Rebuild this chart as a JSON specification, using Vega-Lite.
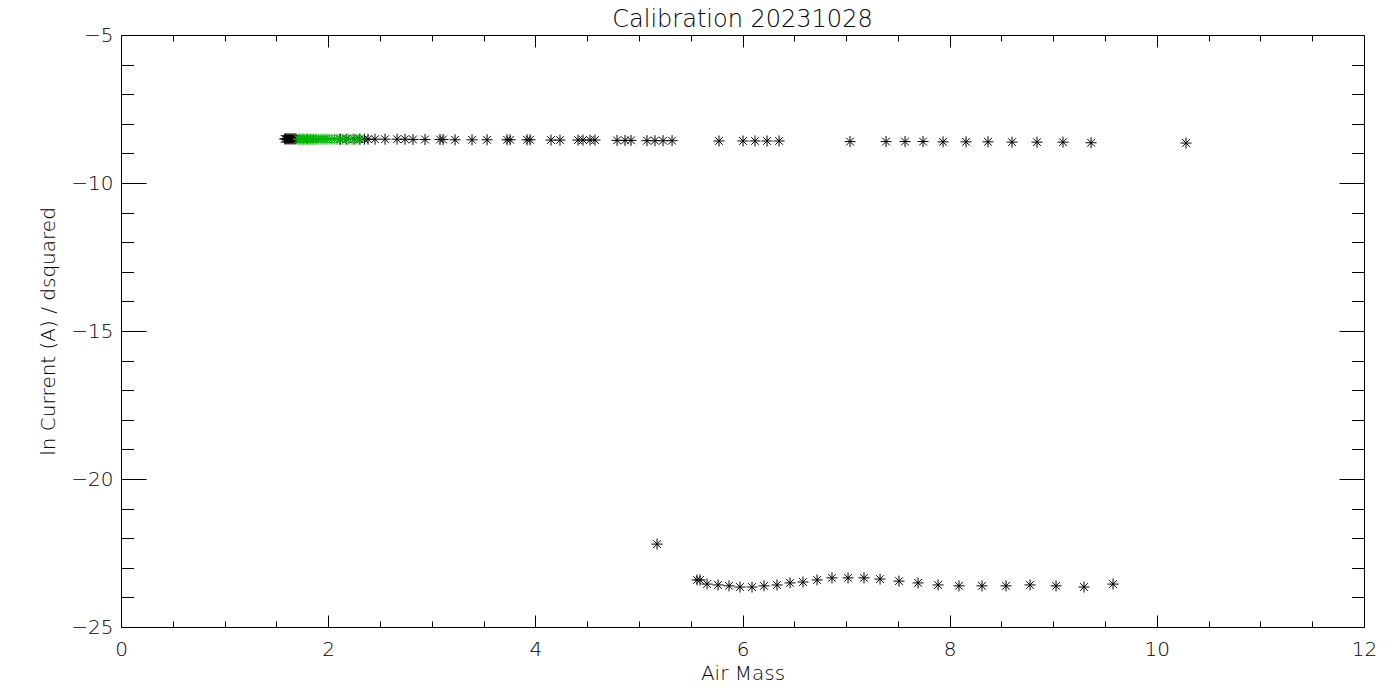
{
  "$schema": "https://vega.github.io/schema/vega-lite/v6.json",
  "autosize": {"type": "none"},
  "padding": {"left": 121, "top": 35, "right": 36, "bottom": 73},
  "width": 1243,
  "height": 592,
  "background": "white",
  "title": {
    "text": "Calibration 20231028",
    "font": "DejaVu Sans",
    "fontSize": 24,
    "fontWeight": 200,
    "color": "black",
    "anchor": "middle",
    "frame": "group",
    "baseline": "alphabetic",
    "offset": -26
  },
  "config": {
    "view": {"stroke": "black", "strokeWidth": 1},
    "axis": {
      "domain": false,
      "grid": false,
      "tickColor": "black",
      "tickWidth": 1,
      "labelColor": "black",
      "titleColor": "black",
      "labelFont": "DejaVu Sans",
      "titleFont": "DejaVu Sans",
      "labelFontSize": 20,
      "titleFontSize": 20,
      "labelFontWeight": 200,
      "titleFontWeight": 200
    }
  },
  "datasets": {
    "pts": [
      {"airmass": 1.58, "lnI": -8.51, "grp": "black"},
      {"airmass": 1.59, "lnI": -8.51, "grp": "black"},
      {"airmass": 1.60, "lnI": -8.51, "grp": "black"},
      {"airmass": 1.61, "lnI": -8.51, "grp": "black"},
      {"airmass": 1.62, "lnI": -8.51, "grp": "black"},
      {"airmass": 1.63, "lnI": -8.51, "grp": "black"},
      {"airmass": 1.64, "lnI": -8.51, "grp": "black"},
      {"airmass": 1.65, "lnI": -8.51, "grp": "black"},
      {"airmass": 1.66, "lnI": -8.51, "grp": "black"},
      {"airmass": 1.67, "lnI": -8.51, "grp": "black"},
      {"airmass": 1.68, "lnI": -8.51, "grp": "black"},
      {"airmass": 1.69, "lnI": -8.51, "grp": "black"},
      {"airmass": 2.12, "lnI": -8.52, "grp": "black"},
      {"airmass": 2.18, "lnI": -8.52, "grp": "black"},
      {"airmass": 2.25, "lnI": -8.52, "grp": "black"},
      {"airmass": 2.30, "lnI": -8.52, "grp": "black"},
      {"airmass": 2.35, "lnI": -8.52, "grp": "black"},
      {"airmass": 2.385, "lnI": -8.52, "grp": "black"},
      {"airmass": 2.452, "lnI": -8.52, "grp": "black"},
      {"airmass": 2.549, "lnI": -8.52, "grp": "black"},
      {"airmass": 2.665, "lnI": -8.52, "grp": "black"},
      {"airmass": 2.742, "lnI": -8.52, "grp": "black"},
      {"airmass": 2.819, "lnI": -8.53, "grp": "black"},
      {"airmass": 2.935, "lnI": -8.53, "grp": "black"},
      {"airmass": 3.080, "lnI": -8.53, "grp": "black"},
      {"airmass": 3.109, "lnI": -8.53, "grp": "black"},
      {"airmass": 3.225, "lnI": -8.54, "grp": "black"},
      {"airmass": 3.389, "lnI": -8.54, "grp": "black"},
      {"airmass": 3.534, "lnI": -8.54, "grp": "black"},
      {"airmass": 3.727, "lnI": -8.54, "grp": "black"},
      {"airmass": 3.756, "lnI": -8.54, "grp": "black"},
      {"airmass": 3.920, "lnI": -8.54, "grp": "black"},
      {"airmass": 3.949, "lnI": -8.54, "grp": "black"},
      {"airmass": 4.151, "lnI": -8.55, "grp": "black"},
      {"airmass": 4.238, "lnI": -8.55, "grp": "black"},
      {"airmass": 4.412, "lnI": -8.55, "grp": "black"},
      {"airmass": 4.460, "lnI": -8.55, "grp": "black"},
      {"airmass": 4.528, "lnI": -8.55, "grp": "black"},
      {"airmass": 4.576, "lnI": -8.55, "grp": "black"},
      {"airmass": 4.789, "lnI": -8.56, "grp": "black"},
      {"airmass": 4.866, "lnI": -8.56, "grp": "black"},
      {"airmass": 4.924, "lnI": -8.56, "grp": "black"},
      {"airmass": 5.078, "lnI": -8.57, "grp": "black"},
      {"airmass": 5.155, "lnI": -8.57, "grp": "black"},
      {"airmass": 5.233, "lnI": -8.57, "grp": "black"},
      {"airmass": 5.320, "lnI": -8.57, "grp": "black"},
      {"airmass": 5.773, "lnI": -8.58, "grp": "black"},
      {"airmass": 6.005, "lnI": -8.58, "grp": "black"},
      {"airmass": 6.121, "lnI": -8.58, "grp": "black"},
      {"airmass": 6.237, "lnI": -8.58, "grp": "black"},
      {"airmass": 6.353, "lnI": -8.58, "grp": "black"},
      {"airmass": 7.038, "lnI": -8.60, "grp": "black"},
      {"airmass": 7.386, "lnI": -8.60, "grp": "black"},
      {"airmass": 7.569, "lnI": -8.60, "grp": "black"},
      {"airmass": 7.743, "lnI": -8.60, "grp": "black"},
      {"airmass": 7.936, "lnI": -8.61, "grp": "black"},
      {"airmass": 8.158, "lnI": -8.61, "grp": "black"},
      {"airmass": 8.370, "lnI": -8.61, "grp": "black"},
      {"airmass": 8.602, "lnI": -8.62, "grp": "black"},
      {"airmass": 8.843, "lnI": -8.62, "grp": "black"},
      {"airmass": 9.094, "lnI": -8.62, "grp": "black"},
      {"airmass": 9.365, "lnI": -8.64, "grp": "black"},
      {"airmass": 10.282, "lnI": -8.65, "grp": "black"},
      {"airmass": 5.175, "lnI": -22.20, "grp": "black"},
      {"airmass": 5.561, "lnI": -23.41, "grp": "black"},
      {"airmass": 5.590, "lnI": -23.41, "grp": "black"},
      {"airmass": 5.658, "lnI": -23.55, "grp": "black"},
      {"airmass": 5.764, "lnI": -23.58, "grp": "black"},
      {"airmass": 5.870, "lnI": -23.61, "grp": "black"},
      {"airmass": 5.976, "lnI": -23.65, "grp": "black"},
      {"airmass": 6.092, "lnI": -23.65, "grp": "black"},
      {"airmass": 6.208, "lnI": -23.61, "grp": "black"},
      {"airmass": 6.333, "lnI": -23.58, "grp": "black"},
      {"airmass": 6.459, "lnI": -23.51, "grp": "black"},
      {"airmass": 6.584, "lnI": -23.48, "grp": "black"},
      {"airmass": 6.720, "lnI": -23.41, "grp": "black"},
      {"airmass": 6.864, "lnI": -23.34, "grp": "black"},
      {"airmass": 7.019, "lnI": -23.34, "grp": "black"},
      {"airmass": 7.173, "lnI": -23.34, "grp": "black"},
      {"airmass": 7.328, "lnI": -23.38, "grp": "black"},
      {"airmass": 7.511, "lnI": -23.45, "grp": "black"},
      {"airmass": 7.695, "lnI": -23.51, "grp": "black"},
      {"airmass": 7.888, "lnI": -23.58, "grp": "black"},
      {"airmass": 8.090, "lnI": -23.61, "grp": "black"},
      {"airmass": 8.312, "lnI": -23.61, "grp": "black"},
      {"airmass": 8.544, "lnI": -23.61, "grp": "black"},
      {"airmass": 8.776, "lnI": -23.58, "grp": "black"},
      {"airmass": 9.027, "lnI": -23.61, "grp": "black"},
      {"airmass": 9.297, "lnI": -23.65, "grp": "black"},
      {"airmass": 9.577, "lnI": -23.55, "grp": "black"},
      {"airmass": 1.71, "lnI": -8.52, "grp": "green"},
      {"airmass": 1.72, "lnI": -8.52, "grp": "green"},
      {"airmass": 1.735, "lnI": -8.52, "grp": "green"},
      {"airmass": 1.75, "lnI": -8.52, "grp": "green"},
      {"airmass": 1.76, "lnI": -8.52, "grp": "green"},
      {"airmass": 1.775, "lnI": -8.52, "grp": "green"},
      {"airmass": 1.79, "lnI": -8.52, "grp": "green"},
      {"airmass": 1.80, "lnI": -8.52, "grp": "green"},
      {"airmass": 1.815, "lnI": -8.52, "grp": "green"},
      {"airmass": 1.83, "lnI": -8.52, "grp": "green"},
      {"airmass": 1.845, "lnI": -8.52, "grp": "green"},
      {"airmass": 1.86, "lnI": -8.52, "grp": "green"},
      {"airmass": 1.875, "lnI": -8.52, "grp": "green"},
      {"airmass": 1.89, "lnI": -8.52, "grp": "green"},
      {"airmass": 1.91, "lnI": -8.52, "grp": "green"},
      {"airmass": 1.93, "lnI": -8.52, "grp": "green"},
      {"airmass": 1.95, "lnI": -8.52, "grp": "green"},
      {"airmass": 1.97, "lnI": -8.52, "grp": "green"},
      {"airmass": 1.99, "lnI": -8.52, "grp": "green"},
      {"airmass": 2.01, "lnI": -8.52, "grp": "green"},
      {"airmass": 2.035, "lnI": -8.52, "grp": "green"},
      {"airmass": 2.06, "lnI": -8.52, "grp": "green"},
      {"airmass": 2.085, "lnI": -8.52, "grp": "green"},
      {"airmass": 2.11, "lnI": -8.52, "grp": "green"},
      {"airmass": 2.14, "lnI": -8.52, "grp": "green"},
      {"airmass": 2.17, "lnI": -8.52, "grp": "green"},
      {"airmass": 2.20, "lnI": -8.52, "grp": "green"},
      {"airmass": 2.23, "lnI": -8.52, "grp": "green"},
      {"airmass": 2.27, "lnI": -8.52, "grp": "green"},
      {"airmass": 2.31, "lnI": -8.52, "grp": "green"}
    ]
  },
  "data": {"name": "pts"},
  "resolve": {"axis": {"x": "independent", "y": "independent"}},
  "layer": [
    {
      "mark": {
        "type": "point",
        "shape": "M-1,0L1,0M0,-1L0,1M-0.7,-0.7L0.7,0.7M-0.7,0.7L0.7,-0.7",
        "size": 121,
        "filled": false,
        "strokeWidth": 1,
        "opacity": 1
      },
      "encoding": {
        "x": {
          "field": "airmass", "type": "quantitative",
          "scale": {"domain": [0, 12], "nice": false, "zero": false},
          "axis": {"orient": "bottom", "title": "Air Mass", "values": [0, 2, 4, 6, 8, 10, 12], "tickSize": -12, "labelPadding": 24, "titlePadding": 4, "format": "d", "labelFlush": false}
        },
        "y": {
          "field": "lnI", "type": "quantitative",
          "scale": {"domain": [-25, -5], "nice": false, "zero": false},
          "axis": {"orient": "left", "title": "ln Current (A) / dsquared", "values": [-25, -20, -15, -10, -5], "tickSize": -25, "labelPadding": 33, "titlePadding": 12, "format": "d", "labelFlush": false}
        },
        "color": {
          "field": "grp", "type": "nominal",
          "scale": {"domain": ["black", "green"], "range": ["#000000", "#00b400"]},
          "legend": null
        }
      }
    },
    {
      "mark": {"type": "point", "opacity": 0},
      "encoding": {
        "x": {"field": "airmass", "type": "quantitative", "axis": {"orient": "top", "title": null, "labels": false, "values": [0, 2, 4, 6, 8, 10, 12], "tickSize": -12, "minExtent": 0, "maxExtent": 0}},
        "y": {"field": "lnI", "type": "quantitative", "axis": {"orient": "right", "title": null, "labels": false, "values": [-25, -20, -15, -10, -5], "tickSize": -25, "minExtent": 0, "maxExtent": 0}}
      }
    },
    {
      "mark": {"type": "point", "opacity": 0},
      "encoding": {
        "x": {"field": "airmass", "type": "quantitative", "axis": {"orient": "bottom", "title": null, "labels": false, "values": [0.5, 1, 1.5, 2.5, 3, 3.5, 4.5, 5, 5.5, 6.5, 7, 7.5, 8.5, 9, 9.5, 10.5, 11, 11.5], "tickSize": -6, "minExtent": 0, "maxExtent": 0}},
        "y": {"field": "lnI", "type": "quantitative", "axis": {"orient": "left", "title": null, "labels": false, "values": [-24, -23, -22, -21, -19, -18, -17, -16, -14, -13, -12, -11, -9, -8, -7, -6], "tickSize": -12.5, "minExtent": 0, "maxExtent": 0}}
      }
    },
    {
      "mark": {"type": "point", "opacity": 0},
      "encoding": {
        "x": {"field": "airmass", "type": "quantitative", "axis": {"orient": "top", "title": null, "labels": false, "values": [0.5, 1, 1.5, 2.5, 3, 3.5, 4.5, 5, 5.5, 6.5, 7, 7.5, 8.5, 9, 9.5, 10.5, 11, 11.5], "tickSize": -6, "minExtent": 0, "maxExtent": 0}},
        "y": {"field": "lnI", "type": "quantitative", "axis": {"orient": "right", "title": null, "labels": false, "values": [-24, -23, -22, -21, -19, -18, -17, -16, -14, -13, -12, -11, -9, -8, -7, -6], "tickSize": -12.5, "minExtent": 0, "maxExtent": 0}}
      }
    }
  ]
}
